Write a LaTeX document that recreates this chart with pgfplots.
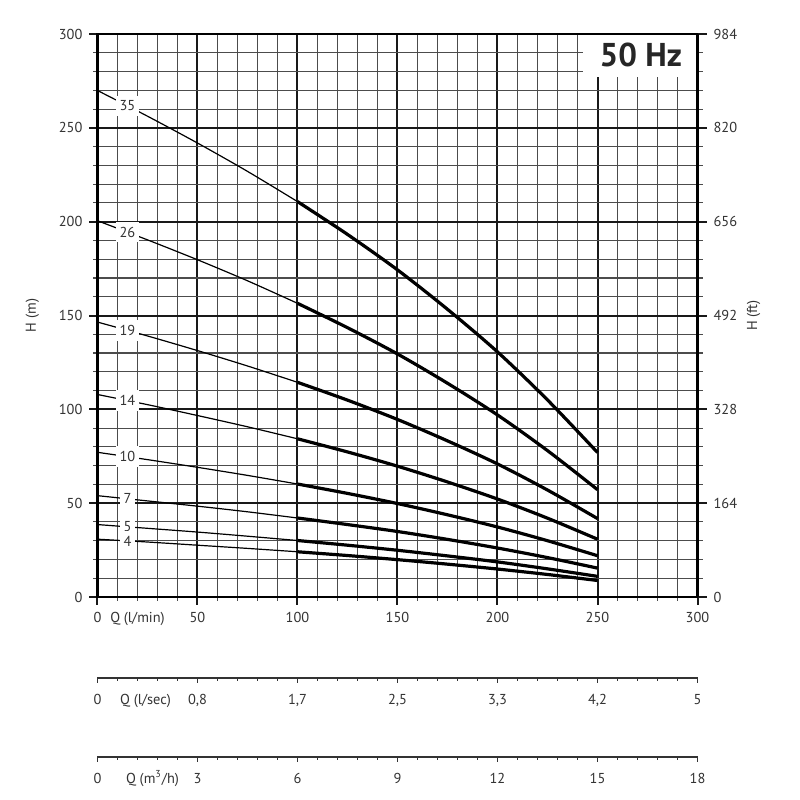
\documentclass[border=0pt]{standalone}
\usepackage{fontspec}
\setmainfont{PT Sans}
\usepackage{pgfplots}
\pgfplotsset{compat=1.18}
\definecolor{txt}{HTML}{333333}
\begin{document}
\begin{tikzpicture}
\path[use as bounding box, fill=white] (0,0) rectangle (400pt,400pt);
\pgfplotsset{
  every axis/.append style={
    font=\fontsize{7.2}{8.5}\selectfont,
    /pgf/number format/assume math mode=true,
    tick label style={text=txt},
    label style={text=txt},
  },
}
% ---------------- main axis ----------------
\begin{axis}[
  at={(48.75pt,101.5pt)}, anchor=south west,
  scale only axis, width=300pt, height=281.5pt,
  xmin=0, xmax=300, ymin=0, ymax=300,
  xtick={0,50,...,300}, ytick={0,50,...,300},
  minor x tick num=4, minor y tick num=4,
  grid=both,
  major grid style={line width=1pt, black!90},
  minor grid style={line width=0.55pt, black!70},
  tick align=outside, xtick pos=bottom, ytick pos=left,
  major tick length=4pt, minor tick length=2pt,
  major tick style={line width=1pt, black!90},
  minor tick style={line width=0.55pt, black!70},
  axis line style={line width=1.1pt, black},
  extra x ticks={20}, extra x tick labels={Q (l/min)},
  extra x tick style={grid=none, tick style={draw=none}},
  ylabel={H (m)}, ylabel shift=3pt,
]
% 35 stages
\addplot[black, line width=0.6pt, smooth] coordinates {(0,269.9)(25,256.2)(50,241.9)(75,226.8)(100,210.7)};
\addplot[black, line width=1.6pt, smooth] coordinates {(100,210.7)(125,193.2)(150,174.3)(175,153.3)(200,130.6)(225,105.0)(250,77.0)};
% 26
\addplot[black, line width=0.6pt, smooth] coordinates {(0,200.5)(25,190.3)(50,179.7)(75,168.5)(100,156.5)};
\addplot[black, line width=1.6pt, smooth] coordinates {(100,156.5)(125,143.5)(150,129.5)(175,113.9)(200,97.0)(225,78.0)(250,57.2)};
% 19
\addplot[black, line width=0.6pt, smooth] coordinates {(0,146.5)(25,139.1)(50,131.3)(75,123.1)(100,114.4)};
\addplot[black, line width=1.6pt, smooth] coordinates {(100,114.4)(125,104.9)(150,94.6)(175,83.2)(200,70.9)(225,57.0)(250,41.8)};
% 14
\addplot[black, line width=0.6pt, smooth] coordinates {(0,107.9)(25,102.5)(50,96.7)(75,90.7)(100,84.3)};
\addplot[black, line width=1.6pt, smooth] coordinates {(100,84.3)(125,77.3)(150,69.7)(175,61.3)(200,52.2)(225,42.0)(250,30.8)};
% 10
\addplot[black, line width=0.6pt, smooth] coordinates {(0,77.1)(25,73.2)(50,69.1)(75,64.8)(100,60.2)};
\addplot[black, line width=1.6pt, smooth] coordinates {(100,60.2)(125,55.2)(150,49.8)(175,43.8)(200,37.3)(225,30.0)(250,22.0)};
% 7
\addplot[black, line width=0.6pt, smooth] coordinates {(0,54.0)(25,51.2)(50,48.4)(75,45.4)(100,42.1)};
\addplot[black, line width=1.6pt, smooth] coordinates {(100,42.1)(125,38.6)(150,34.9)(175,30.7)(200,26.1)(225,21.0)(250,15.4)};
% 5
\addplot[black, line width=0.6pt, smooth] coordinates {(0,38.6)(25,36.6)(50,34.6)(75,32.4)(100,30.1)};
\addplot[black, line width=1.6pt, smooth] coordinates {(100,30.1)(125,27.6)(150,24.9)(175,21.9)(200,18.7)(225,15.0)(250,11.0)};
% 4
\addplot[black, line width=0.6pt, smooth] coordinates {(0,30.8)(25,29.3)(50,27.6)(75,25.9)(100,24.1)};
\addplot[black, line width=1.6pt, smooth] coordinates {(100,24.1)(125,22.1)(150,19.9)(175,17.5)(200,14.9)(225,12.0)(250,8.8)};
% curve labels
\tikzset{cl/.style={fill=white, inner xsep=2pt, inner ysep=2.5pt, text=txt}}
\node[cl] at (axis cs:15,261.8) {35};
\node[cl] at (axis cs:15,194.5) {26};
\node[cl] at (axis cs:15,142.1) {19};
\node[cl] at (axis cs:15,104.7) {14};
\node[cl] at (axis cs:15,74.8) {10};
\node[cl] at (axis cs:15,52.4) {7};
\node[cl] at (axis cs:15,37.4) {5};
\node[cl] at (axis cs:15,29.9) {4};
% 50 Hz box
\fill[white] (axis cs:242.75,277) rectangle (axis cs:300,300);
\draw[line width=1.1pt, black] (axis cs:242.75,300) -- (axis cs:300,300);
\node[font=\fontsize{16.5}{18}\selectfont\bfseries, text=black!85] at (axis cs:271.7,288.6) {50 Hz};
\end{axis}
% ---------------- right axis (ft) ----------------
\begin{axis}[
  at={(48.75pt,101.5pt)}, anchor=south west,
  scale only axis, width=300pt, height=281.5pt,
  xmin=0, xmax=300, ymin=0, ymax=300,
  axis x line=none, axis y line*=right,
  ytick={0,50,...,300}, yticklabels={0,164,328,492,656,820,984},
  minor y tick num=4,
  tick align=outside, major tick length=4.5pt, minor tick length=2.5pt,
  major tick style={line width=1pt, black!90},
  minor tick style={line width=0.55pt, black!70},
  axis line style={line width=1.1pt, black},
  ylabel={H (ft)}, ylabel shift=-2pt,
]
\end{axis}
% ---------------- l/sec axis ----------------
\begin{axis}[
  at={(48.75pt,61pt)}, anchor=south west,
  scale only axis, width=300pt, height=1pt,
  xmin=0, xmax=300, ymin=0, ymax=1,
  axis y line=none, axis x line*=bottom,
  xtick={0,50,...,300}, xticklabels={0,{0,8},{1,7},{2,5},{3,3},{4,2},5},
  minor x tick num=4,
  tick align=outside, major tick length=2.5pt, minor tick length=1.5pt,
  major tick style={line width=0.5pt, black!80},
  minor tick style={line width=0.5pt, black!80},
  axis line style={line width=0.6pt, black!80},
  xticklabel shift=-1pt,
  xticklabel style={text height=1.6ex, text depth=0.3ex},
  extra x ticks={24}, extra x tick labels={Q (l/sec)},
  extra x tick style={tick style={draw=none}},
]
\end{axis}
% ---------------- m3/h axis ----------------
\begin{axis}[
  at={(48.75pt,21.5pt)}, anchor=south west,
  scale only axis, width=300pt, height=1pt,
  xmin=0, xmax=300, ymin=0, ymax=1,
  axis y line=none, axis x line*=bottom,
  xtick={0,50,...,300}, xticklabels={0,3,6,9,12,15,18},
  minor x tick num=4,
  tick align=outside, major tick length=2.5pt, minor tick length=1.5pt,
  major tick style={line width=0.5pt, black!80},
  minor tick style={line width=0.5pt, black!80},
  axis line style={line width=0.6pt, black!80},
  xticklabel shift=-1pt,
  xticklabel style={text height=1.6ex, text depth=0.3ex},
  extra x ticks={27.5}, extra x tick labels={Q (m\textsuperscript{3}/h)},
  extra x tick style={tick style={draw=none}},
]
\end{axis}
\end{tikzpicture}
\end{document}
